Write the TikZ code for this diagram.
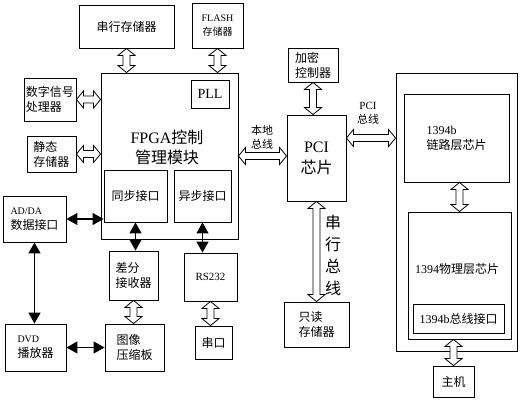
\documentclass[tikz,border=0pt]{standalone}
\usepackage{fontspec}
\setmainfont{Liberation Serif}
\newfontfamily\cjk{Noto Sans CJK SC}
\newcommand{\zh}[1]{{\cjk #1}}
\usetikzlibrary{calc,arrows.meta}

\tikzset{
  box/.style={draw, line width=0.9pt, inner sep=0pt, align=center, font=\fontsize{12}{15}\selectfont},
  lbox/.style={box, align=left},
  hollow/.style={draw, fill=white, line width=0.8pt, line join=miter},
  biarrow/.style={line width=1.2pt, {Triangle[length=11pt,width=12pt]}-{Triangle[length=11pt,width=12pt]}},
  tag/.style={inner sep=0pt, align=center, font=\fontsize{11}{14}\selectfont}
}

% hollow double arrow between two points
\newcommand{\dblarrow}[2]{%
  \path (#1) coordinate (ha) (#2) coordinate (hb)
    ($(ha)!7pt!(hb)$) coordinate (ha1)
    ($(hb)!7pt!(ha)$) coordinate (hb1);
  \filldraw[hollow] (ha) -- ($(ha1)!8.5pt!90:(hb)$) -- ($(ha1)!3.5pt!90:(hb)$)
    -- ($(hb1)!3.5pt!-90:(ha)$) -- ($(hb1)!8.5pt!-90:(ha)$) -- (hb)
    -- ($(hb1)!8.5pt!90:(ha)$) -- ($(hb1)!3.5pt!90:(ha)$)
    -- ($(ha1)!3.5pt!-90:(hb)$) -- ($(ha1)!8.5pt!-90:(hb)$) -- cycle;
}

\begin{document}
\begin{tikzpicture}[x=1pt,y=-1pt]
  \useasboundingbox (0,0) rectangle (523,400);

  % FPGA side
  \node[box, minimum width=95, minimum height=43] (serial) at (126.5,26.5) {\zh{串行存储器}};
  \node[box, minimum width=51, minimum height=45, font=\fontsize{10}{14}\selectfont] (flash) at (217.5,25.5) {FLASH\\\zh{存储器}};
  \node[box, minimum width=137, minimum height=166] (fpga) at (169.5,156) {};
  \node[tag, font=\fontsize{16}{20}\selectfont] (fpgatext) at (167,147) {FPGA\zh{控制}\\\zh{管理模块}};
  \node[box, minimum width=38, minimum height=28, font=\fontsize{14}{16}\selectfont] (pll) at (210,94) {PLL};
  \node[lbox, minimum width=52, minimum height=43] (dsp) at (50,99.5) {\zh{数字信号}\\\zh{处理器}};
  \node[lbox, minimum width=49, minimum height=36] (sram) at (51.5,154) {\zh{静态}\\\zh{存储器}};
  \node[box, minimum width=63, minimum height=52] (sync) at (135.5,196) {\zh{同步接口}};
  \node[box, minimum width=57, minimum height=52] (async) at (202.5,196) {\zh{异步接口}};
  \node[lbox, minimum width=63, minimum height=46] (adda) at (34.5,219) {\fontsize{10}{15}\selectfont AD/DA\\\zh{数据接口}};
  \node[lbox, minimum width=49, minimum height=49] (diff) at (133.5,275.5) {\zh{差分}\\\zh{接收器}};
  \node[box, minimum width=53, minimum height=48, font=\fontsize{11}{14}\selectfont] (rs) at (210.5,277) {RS232};
  \node[box, minimum width=37, minimum height=33] (com) at (213.5,342.5) {\zh{串口}};
  \node[lbox, minimum width=61, minimum height=47] (dvd) at (35.5,347.5) {\fontsize{10}{15}\selectfont DVD\\\zh{播放器}};
  \node[lbox, minimum width=59, minimum height=47] (img) at (134.5,347.5) {\zh{图像}\\\zh{压缩板}};

  % PCI side
  \node[lbox, minimum width=50, minimum height=34] (crypt) at (313,65) {\zh{加密}\\\zh{控制器}};
  \node[box, minimum width=59, minimum height=86, font=\fontsize{16}{21}\selectfont] (pci) at (316.5,158) {PCI\\\zh{芯片}};
  \node[lbox, minimum width=65, minimum height=45] (rom) at (316.5,324.5) {\zh{只读}\\\zh{存储器}};

  % 1394 side
  \node[box, minimum width=121, minimum height=278] (card) at (456.5,212) {};
  \node[lbox, minimum width=105, minimum height=88] (link) at (456.5,138) {1394b\\\zh{链路层芯片}};
  \node[box, minimum width=103, minimum height=127] (phy) at (459.5,275.5) {};
  \node[tag, font=\fontsize{12}{15}\selectfont] (phytext) at (457,269) {1394\zh{物理层芯片}};
  \node[box, minimum width=91, minimum height=29] (busif) at (458.5,318.5) {1394b\zh{总线接口}};
  \node[box, minimum width=41, minimum height=31] (host) at (453.5,381.5) {\zh{主机}};

  % labels
  \node[tag] (lbus) at (262,137) {\zh{本地}\\\zh{总线}};
  \node[tag] (pbus) at (368,113) {PCI\\\zh{总线}};
  \node[tag, font=\fontsize{16}{22}\selectfont] (sbus) at (333,255) {\zh{串}\\\zh{行}\\\zh{总}\\\zh{线}};

  % hollow arrows
  \dblarrow{serial.south}{serial.south |- fpga.north}
  \dblarrow{flash.south}{flash.south |- fpga.north}
  \dblarrow{dsp.east}{dsp.east -| fpga.west}
  \dblarrow{sram.east}{sram.east -| fpga.west}
  \dblarrow{fpga.east}{fpga.east -| pci.west}
  \dblarrow{crypt.south}{crypt.south |- pci.north}
  \dblarrow{pci.east |- link.west}{card.west |- link.west}
  \dblarrow{pci.south}{rom.north}
  \dblarrow{phy.north |- link.south}{phy.north}
  \dblarrow{host.north |- phy.south}{host.north}
  \dblarrow{diff.south}{diff.south |- img.north}
  \dblarrow{rs.south}{rs.south |- com.north}

  % solid arrows
  \draw[biarrow] (adda.east) -- (adda.east -| sync.west);
  \draw[biarrow] (sync.south) -- (sync.south |- diff.north);
  \draw[biarrow] (async.south) -- (async.south |- rs.north);
  \draw[biarrow] (adda.south) -- (adda.south |- dvd.north);
  \draw[biarrow] (dvd.east) -- (dvd.east -| img.west);
\end{tikzpicture}
\end{document}
